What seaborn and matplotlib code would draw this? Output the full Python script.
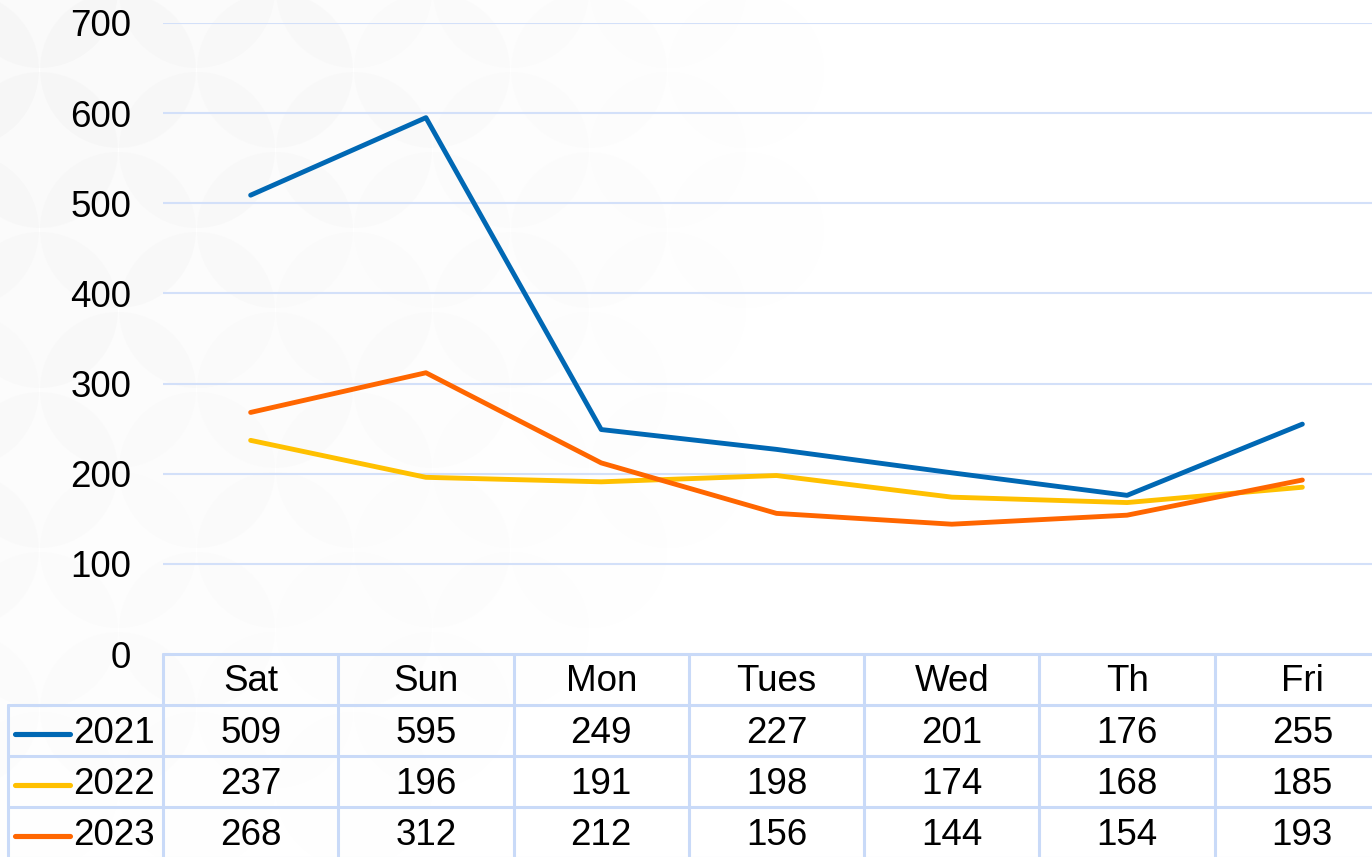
import numpy as np
import pandas as pd
import seaborn as sns
import matplotlib.pyplot as plt
from matplotlib.patches import Ellipse
from matplotlib.lines import Line2D
import matplotlib.transforms as mtransforms

days = ["Sat", "Sun", "Mon", "Tues", "Wed", "Th", "Fri"]
years = ["2021", "2022", "2023"]
v2021 = [509, 595, 249, 227, 201, 176, 255]
v2022 = [237, 196, 191, 198, 174, 168, 185]
v2023 = [268, 312, 212, 156, 144, 154, 193]
colors = ["#0068B4", "#FFC000", "#FF6600"]
yticks = [0, 100, 200, 300, 400, 500, 600, 700]

df = pd.DataFrame({
    "day": days * 3,
    "year": [y for y in years for _ in days],
    "value": v2021 + v2022 + v2023,
})

sns.set_style("white")
plt.rcParams["font.family"] = ["Liberation Sans", "DejaVu Sans"]
plt.rcParams["text.color"] = "black"
plt.rcParams["ytick.color"] = "black"

W, H = 1372, 857
fig = plt.figure(figsize=(W / 100, H / 100), dpi=100)
fig.patch.set_facecolor("white")

# faint decorative circle pattern in the top-left corner
r = 78
for i in range(-1, 6):
    for j in range(-1, 11):
        cx = i * 157 + (78 if j % 2 else 0) + 40
        cy = j * 80 - 10
        fade = max(0.0, 1 - np.hypot(cx * 0.9, cy * 0.75) / 720)
        if fade <= 0:
            continue
        fig.patches.append(Ellipse((cx / W, 1 - cy / H), 2 * r / W, 2 * r / H,
                                   transform=fig.transFigure, facecolor="#E9E9E9",
                                   edgecolor="none", alpha=0.22 * fade, zorder=-5))

left, right = 163 / W, 1390 / W
bottom, top = 1 - 654 / H, 1 - 23 / H
ax = fig.add_axes([left, bottom, right - left, top - bottom])
ax.set_facecolor("none")
ax.set_zorder(2)

sns.lineplot(data=df, x="day", y="value", hue="year", palette=colors,
             linewidth=3.5, ax=ax, legend=False, sort=False)
ax.set_xlim(-0.5, 6.5)
ax.set_ylim(0, 700)
ax.set_yticks(yticks)
ax.set_yticklabels([str(t) for t in yticks], fontsize=26.5)
ax.tick_params(axis="y", length=0, pad=23, labelcolor="black")
ax.set_xticks([])
ax.set_xlabel("")
ax.set_ylabel("")
for s in ax.spines.values():
    s.set_visible(False)
for t in yticks[1:]:
    ax.axhline(t, color="#D3E0F9", linewidth=1.5, zorder=0)

# data table below the plot
tcol = "#C9DAF8"
row_h = 51 / H
trans = mtransforms.blended_transform_factory(ax.transData, fig.transFigure)
y0 = 1 - 654 / H
rows_y = [y0 - k * row_h for k in range(5)]
fig.add_artist(Line2D([left, right], [rows_y[0]] * 2, color=tcol, lw=2.2, transform=fig.transFigure))
for k in range(1, 5):
    fig.add_artist(Line2D([8 / W, right], [rows_y[k]] * 2, color=tcol, lw=2.2, transform=fig.transFigure))
for k in range(8):
    xk = k - 0.5
    fig.add_artist(Line2D([xk, xk], [rows_y[0], rows_y[4]], color=tcol, lw=2.2, transform=trans,
                          clip_on=False))
fig.add_artist(Line2D([8 / W, 8 / W], [rows_y[1], rows_y[4]], color=tcol, lw=2.2,
                      transform=fig.transFigure))

for i, d in enumerate(days):
    fig.text(i, rows_y[0] - row_h / 2 - 2 / H, d, transform=trans, ha="center", va="center",
             fontsize=26.5, color="black")
for rr, (yr, vals, c) in enumerate(zip(years, [v2021, v2022, v2023], colors)):
    yc = rows_y[rr + 1] - row_h / 2 - 3 / H
    fig.add_artist(Line2D([15 / W, 70 / W], [yc, yc], color=c, lw=3.7, solid_capstyle="round",
                          transform=fig.transFigure))
    fig.text(73 / W, yc, yr, ha="left", va="center", fontsize=26.5, color="black")
    for i, v in enumerate(vals):
        fig.text(i, yc, str(v), transform=trans, ha="center", va="center", fontsize=26.5,
                 color="black")

fig.savefig("out.png", dpi=100)
